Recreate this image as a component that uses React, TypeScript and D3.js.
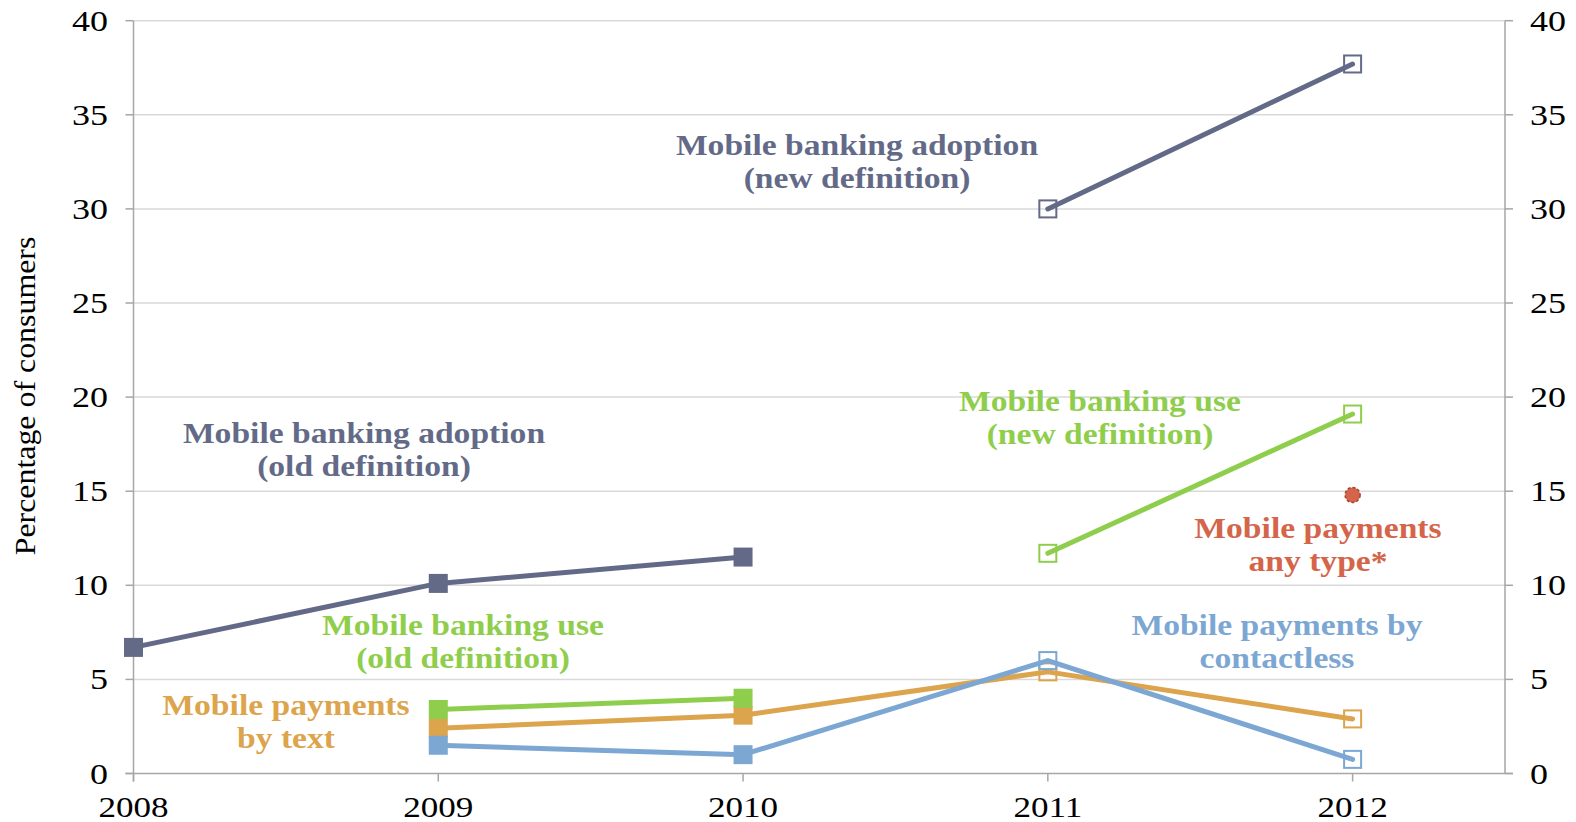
import React from "react";
import * as d3 from "d3";

const years = [2008, 2009, 2010, 2011, 2012];
const yTicks = [0, 5, 10, 15, 20, 25, 30, 35, 40];

const adoptionOld = [
  { year: 2008, value: 6.7 },
  { year: 2009, value: 10.1 },
  { year: 2010, value: 11.5 },
];
const adoptionNew = [
  { year: 2011, value: 30.0 },
  { year: 2012, value: 37.7 },
];
const useOld = [
  { year: 2009, value: 3.4 },
  { year: 2010, value: 4.0 },
];
const useNew = [
  { year: 2011, value: 11.7 },
  { year: 2012, value: 19.1 },
];
const payText = [
  { year: 2009, value: 2.4 },
  { year: 2010, value: 3.1 },
  { year: 2011, value: 5.4 },
  { year: 2012, value: 2.9 },
];
const payContactless = [
  { year: 2009, value: 1.5 },
  { year: 2010, value: 1.0 },
  { year: 2011, value: 6.0 },
  { year: 2012, value: 0.75 },
];
const payAny = [{ year: 2012, value: 14.8 }];

const C = {
  slate: "#636a88",
  green: "#8fce4c",
  orange: "#dca44c",
  blue: "#7ca7d3",
  red: "#d4654a",
};

const W = 1576;
const H = 822;
const x = d3.scaleLinear().domain([2008, 2012.5]).range([133.5, 1505]);
const y = d3.scaleLinear().domain([0, 40]).range([773.5, 20.7]);

const line = d3
  .line<{ year: number; value: number }>()
  .x((d) => x(d.year))
  .y((d) => y(d.value));

const FONT = "'Liberation Serif', 'Times New Roman', serif";

function Series({ data, color, newFrom }: { data: { year: number; value: number }[]; color: string; newFrom: number }) {
  const s = 19;
  return (
    <g>
      <path d={line(data) || ""} fill="none" stroke={color} strokeWidth={5} strokeLinejoin="round" strokeLinecap="round" />
      {data.map((d) =>
        d.year >= newFrom ? (
          <rect key={d.year} x={x(d.year) - s / 2 + 1} y={y(d.value) - s / 2 + 1} width={s - 2} height={s - 2} fill="none" stroke={color} strokeWidth={2} />
        ) : (
          <rect key={d.year} x={x(d.year) - s / 2} y={y(d.value) - s / 2} width={s} height={s} fill={color} />
        )
      )}
    </g>
  );
}

function SText({ x: tx, y: ty, sx, anchor, size, weight, color, children }: any) {
  return (
    <g transform={`translate(${tx},${ty}) scale(${sx},1)`}>
      <text x={0} y={0} textAnchor={anchor} fontFamily={FONT} fontSize={size} fontWeight={weight || "normal"} fill={color || "#000"}>
        {children}
      </text>
    </g>
  );
}

function Label({ cx, y1, lines, color }: { cx: number; y1: number; lines: string[]; color: string }) {
  return (
    <g>
      {lines.map((l, i) => (
        <SText key={i} x={cx} y={y1 + i * 32.5} sx={1.12} anchor="middle" size={30} weight="bold" color={color}>
          {l}
        </SText>
      ))}
    </g>
  );
}

export default function App() {
  const x0 = x(2008);
  const x1 = x(2012.5);
  return (
    <svg width={W} height={H} style={{ position: "absolute", left: 0, top: 0, background: "#fff" }}>
      {/* gridlines */}
      {yTicks.slice(1).map((t) => (
        <line key={t} x1={x0} x2={x1} y1={y(t)} y2={y(t)} stroke="#d9d9d9" strokeWidth={1.5} />
      ))}
      {/* axes */}
      <line x1={x0} x2={x0} y1={y(40)} y2={y(0) + 8} stroke="#a6a6a6" strokeWidth={1.5} />
      <line x1={x1} x2={x1} y1={y(40)} y2={y(0)} stroke="#a6a6a6" strokeWidth={1.5} />
      <line x1={x0 - 8} x2={x1 + 8} y1={y(0)} y2={y(0)} stroke="#a6a6a6" strokeWidth={1.5} />
      {yTicks.map((t) => (
        <g key={t}>
          <line x1={x0 - 8} x2={x0} y1={y(t)} y2={y(t)} stroke="#a6a6a6" strokeWidth={1.5} />
          <line x1={x1} x2={x1 + 8} y1={y(t)} y2={y(t)} stroke="#a6a6a6" strokeWidth={1.5} />
          <SText x={108} y={y(t) + 10} sx={1.2} anchor="end" size={30}>
            {t}
          </SText>
          <SText x={1530} y={y(t) + 10} sx={1.2} anchor="start" size={30}>
            {t}
          </SText>
        </g>
      ))}
      {years.map((yr) => (
        <g key={yr}>
          <line x1={x(yr)} x2={x(yr)} y1={y(0)} y2={y(0) + 8} stroke="#a6a6a6" strokeWidth={1.5} />
          <SText x={x(yr)} y={817} sx={1.17} anchor="middle" size={30}>
            {yr}
          </SText>
        </g>
      ))}
      <g transform={`translate(35, 396) rotate(-90) scale(1.1,1)`}>
        <text x={0} y={0} textAnchor="middle" fontFamily={FONT} fontSize={29} fill="#000">
          Percentage of consumers
        </text>
      </g>

      {/* series */}
      <Series data={adoptionOld} color={C.slate} newFrom={2011} />
      <Series data={adoptionNew} color={C.slate} newFrom={2011} />
      <Series data={payText} color={C.orange} newFrom={2011} />
      <Series data={payContactless} color={C.blue} newFrom={2011} />
      <Series data={useOld} color={C.green} newFrom={2011} />
      <Series data={useNew} color={C.green} newFrom={2011} />
      {payAny.map((d) => (
        <circle key={d.year} cx={x(d.year)} cy={y(d.value)} r={7.5} fill={C.red} stroke="#a8412b" strokeWidth={1.5} strokeDasharray="3 2" />
      ))}

      {/* labels */}
      <Label cx={857} y1={155} lines={["Mobile banking adoption", "(new definition)"]} color={C.slate} />
      <Label cx={364} y1={443} lines={["Mobile banking adoption", "(old definition)"]} color={C.slate} />
      <Label cx={463} y1={635} lines={["Mobile banking use", "(old definition)"]} color={C.green} />
      <Label cx={286} y1={715} lines={["Mobile payments", "by text"]} color={C.orange} />
      <Label cx={1100} y1={411} lines={["Mobile banking use", "(new definition)"]} color={C.green} />
      <Label cx={1318} y1={538} lines={["Mobile payments", "any type*"]} color={C.red} />
      <Label cx={1277} y1={635} lines={["Mobile payments by", "contactless"]} color={C.blue} />
    </svg>
  );
}
